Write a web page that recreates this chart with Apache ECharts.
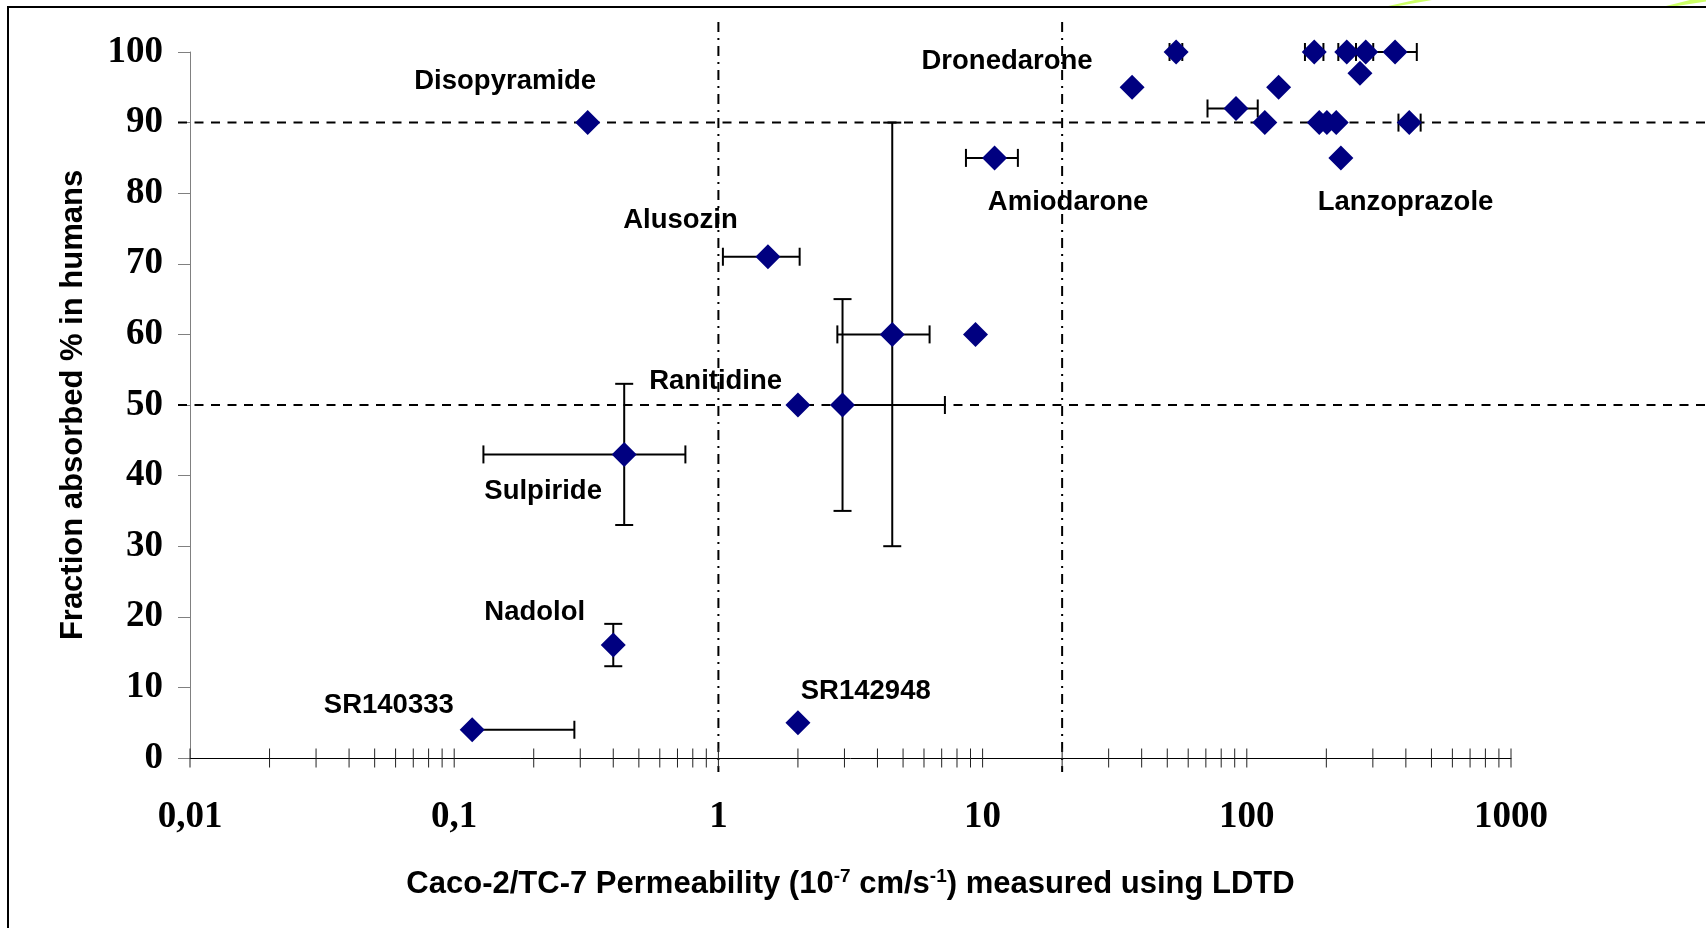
<!DOCTYPE html>
<html>
<head>
<meta charset="utf-8">
<title>Caco-2/TC-7 permeability vs fraction absorbed</title>
<script src="https://cdn.jsdelivr.net/npm/echarts@6.0.0/dist/echarts.min.js"></script>
<style>
  html, body { margin: 0; padding: 0; background: #fff; }
  #chart { width: 1706px; height: 928px; }
</style>
</head>
<body>
<div id="chart"></div>
<script>
// Measured compounds: permeability (10^-7 cm/s) and fraction absorbed in humans (%)
const permeability     = [0.32, 1.54, 0.44, 0.40, 0.117, 2.0, 2.0, 2.95, 4.55, 9.4, 11.1, 36.8, 54, 91, 117, 132, 180, 188, 201, 218, 239, 268, 282, 364, 227, 412];
const fractionAbsorbed = [90, 71, 43, 16, 4, 5, 50, 50, 60, 60, 85, 95, 100, 92, 90, 95, 100, 90, 90, 90, 100, 97, 100, 100, 85, 90];

// Error bar limits (null = no bar)
const permLow   = [null, 1.04, 0.129, null, 0.117, null, null, 2.95, 2.82, null, 8.65, null, 51, 71, null, null, 166, null, null, null, 222, null, null, 301, null, 375];
const permHigh  = [null, 2.03, 0.75, null, 0.285, null, null, 7.2, 6.3, null, 13.6, null, 57, 110, null, null, 195, null, null, null, 259, null, null, 440, null, 455];
const fracLow   = [null, null, 33, 13, null, null, null, 35, 30, null, null, null, null, null, null, null, null, null, null, null, null, null, null, null, null, null];
const fracHigh  = [null, null, 53, 19, null, null, null, 65, 90, null, null, null, null, null, null, null, null, null, null, null, null, null, null, null, null, null];

// Compound name annotations (left edge / vertical middle of the text, in data units)
const compoundNames  = ['Disopyramide', 'Dronedarone', 'Alusozin', 'Amiodarone', 'Lanzoprazole', 'Ranitidine', 'Sulpiride', 'Nadolol', 'SR140333', 'SR142948'];
const compoundLabelX = [0.0706, 5.87, 0.436, 10.47, 185.4, 0.547, 0.13, 0.13, 0.0321, 2.05];
const compoundLabelY = [95.9, 98.6, 76.1, 78.7, 78.7, 53.4, 37.7, 20.6, 7.5, 9.45];

// Classification thresholds
const thresholdFractions      = [50, 90];
const thresholdPermeabilities = [1, 20];

// Log-axis tick marks (decades and their subdivisions)
const xTickValues = [
  0.01, 0.02, 0.03, 0.04, 0.05, 0.06, 0.07, 0.08, 0.09,
  0.1, 0.2, 0.3, 0.4, 0.5, 0.6, 0.7, 0.8, 0.9,
  1, 2, 3, 4, 5, 6, 7, 8, 9,
  10, 20, 30, 40, 50, 60, 70, 80, 90,
  100, 200, 300, 400, 500, 600, 700, 800, 900,
  1000
];

const SANS = '"Liberation Sans", Arial, Helvetica, sans-serif';
const SERIF = '"Liberation Serif", "Times New Roman", serif';

const chart = echarts.init(document.getElementById('chart'), null, { renderer: 'canvas' });

function isNum(v) { return v !== null && v !== undefined && !isNaN(v); }

const option = {
  backgroundColor: '#ffffff',
  animation: false,
  grid: { left: 190, right: 195, top: 52, bottom: 170, containLabel: false },
  xAxis: {
    type: 'log',
    logBase: 10,
    min: 0.01,
    max: 1000,
    name: 'Caco-2/TC-7 Permeability (10{sup|-7} cm/s{sup|-1}) measured using LDTD',
    nameLocation: 'middle',
    nameGap: 109,
    nameTextStyle: {
      fontFamily: SANS, fontWeight: 'bold', fontSize: 31, color: '#000',
      rich: {
        sup: { fontFamily: SANS, fontWeight: 'bold', fontSize: 19, color: '#000', padding: [0, 0, 16, 0] }
      }
    },
    axisLine: { show: true, lineStyle: { color: '#000', width: 1 } },
    axisTick: { show: false },
    splitLine: { show: false },
    minorTick: { show: false },
    axisLabel: {
      fontFamily: SERIF, fontWeight: 'bold', fontSize: 37, color: '#000', margin: 41,
      formatter: function (v) { return String(v).replace('.', ','); }
    }
  },
  yAxis: {
    type: 'value',
    min: 0,
    max: 100,
    interval: 10,
    name: 'Fraction absorbed % in humans',
    nameLocation: 'middle',
    nameGap: 101,
    nameTextStyle: { fontFamily: SANS, fontWeight: 'bold', fontSize: 31, color: '#000' },
    axisLine: { show: true, lineStyle: { color: '#808080', width: 1 } },
    axisTick: { show: true, inside: false, length: 12, lineStyle: { color: '#808080', width: 1 } },
    splitLine: { show: false },
    axisLabel: { fontFamily: SERIF, fontWeight: 'bold', fontSize: 37, color: '#000', margin: 27 }
  },
  graphic: [
    // slide decoration strokes at the top right
    { type: 'polygon', z: 0, silent: true,
      shape: { points: [[1385, 6.7], [1394, 6.7], [1432, 0], [1415, 0]] },
      style: { fill: '#ccff66' } },
    { type: 'polygon', z: 0, silent: true,
      shape: { points: [[1663, 6.7], [1672, 6.7], [1706, 1.5], [1706, 0], [1690, 0]] },
      style: { fill: '#ccff66' } },
    // outer frame
    { type: 'rect', z: 1, silent: true,
      shape: { x: 8, y: 7, width: 2000, height: 2000 },
      style: { fill: null, stroke: '#000', lineWidth: 2 } }
  ],
  series: [
    // horizontal dashed thresholds, running to the right edge
    {
      type: 'custom',
      z: 1,
      silent: true,
      clip: false,
      data: thresholdFractions.map(function (f) { return [0.01, f]; }),
      renderItem: function (params, api) {
        const p = api.coord([api.value(0), api.value(1)]);
        return {
          type: 'line',
          shape: { x1: p[0] - 12, y1: p[1], x2: api.getWidth(), y2: p[1] },
          style: { stroke: '#000', lineWidth: 2, lineDash: [9, 7.5] }
        };
      }
    },
    // vertical dash-dot thresholds
    {
      type: 'custom',
      z: 1,
      silent: true,
      clip: false,
      data: thresholdPermeabilities.map(function (x) { return [x, 0]; }),
      renderItem: function (params, api) {
        const bottom = api.coord([api.value(0), 0]);
        const top = api.coord([api.value(0), 100]);
        return {
          type: 'line',
          shape: { x1: bottom[0], y1: top[1] - 30, x2: bottom[0], y2: bottom[1] + 14 },
          style: { stroke: '#000', lineWidth: 2, lineDash: [10, 6, 2, 6] }
        };
      }
    },
    // x axis ticks crossing the axis line
    {
      type: 'custom',
      z: 2,
      silent: true,
      clip: false,
      data: xTickValues.map(function (v) { return [v, 0]; }),
      renderItem: function (params, api) {
        const p = api.coord([api.value(0), api.value(1)]);
        return {
          type: 'line',
          shape: { x1: p[0], y1: p[1] - 9.5, x2: p[0], y2: p[1] + 9.5 },
          style: { stroke: '#222', lineWidth: 1 }
        };
      }
    },
    // error bars
    {
      type: 'custom',
      z: 3,
      silent: true,
      clip: false,
      data: permeability.map(function (x, i) { return [x, fractionAbsorbed[i]]; }),
      renderItem: function (params, api) {
        const i = params.dataIndex;
        const y = fractionAbsorbed[i];
        const x = permeability[i];
        const cap = 9;
        const children = [];
        const st = { stroke: '#000', lineWidth: 2 };
        if (isNum(permLow[i]) && isNum(permHigh[i])) {
          const a = api.coord([permLow[i], y]);
          const b = api.coord([permHigh[i], y]);
          children.push({ type: 'line', shape: { x1: a[0], y1: a[1], x2: b[0], y2: b[1] }, style: st });
          children.push({ type: 'line', shape: { x1: a[0], y1: a[1] - cap, x2: a[0], y2: a[1] + cap }, style: st });
          children.push({ type: 'line', shape: { x1: b[0], y1: b[1] - cap, x2: b[0], y2: b[1] + cap }, style: st });
        }
        if (isNum(fracLow[i]) && isNum(fracHigh[i])) {
          const a = api.coord([x, fracLow[i]]);
          const b = api.coord([x, fracHigh[i]]);
          children.push({ type: 'line', shape: { x1: a[0], y1: a[1], x2: b[0], y2: b[1] }, style: st });
          children.push({ type: 'line', shape: { x1: a[0] - cap, y1: a[1], x2: a[0] + cap, y2: a[1] }, style: st });
          children.push({ type: 'line', shape: { x1: b[0] - cap, y1: b[1], x2: b[0] + cap, y2: b[1] }, style: st });
        }
        return { type: 'group', children: children };
      }
    },
    // measured compounds
    {
      type: 'scatter',
      z: 4,
      silent: true,
      symbol: 'diamond',
      symbolSize: [25, 25],
      itemStyle: { color: '#000080', opacity: 1 },
      data: permeability.map(function (x, i) { return [x, fractionAbsorbed[i]]; })
    },
    // compound names, written beside an anchor point
    {
      type: 'custom',
      z: 5,
      silent: true,
      clip: false,
      data: compoundLabelX.map(function (x, i) { return [x, compoundLabelY[i]]; }),
      renderItem: function (params, api) {
        const p = api.coord([api.value(0), api.value(1)]);
        return {
          type: 'text',
          x: p[0],
          y: p[1],
          style: {
            text: compoundNames[params.dataIndex],
            fontFamily: SANS,
            fontWeight: 'bold',
            fontSize: 27.5,
            fill: '#000',
            align: 'left',
            verticalAlign: 'middle'
          }
        };
      }
    }
  ]
};

chart.setOption(option);
</script>
</body>
</html>
